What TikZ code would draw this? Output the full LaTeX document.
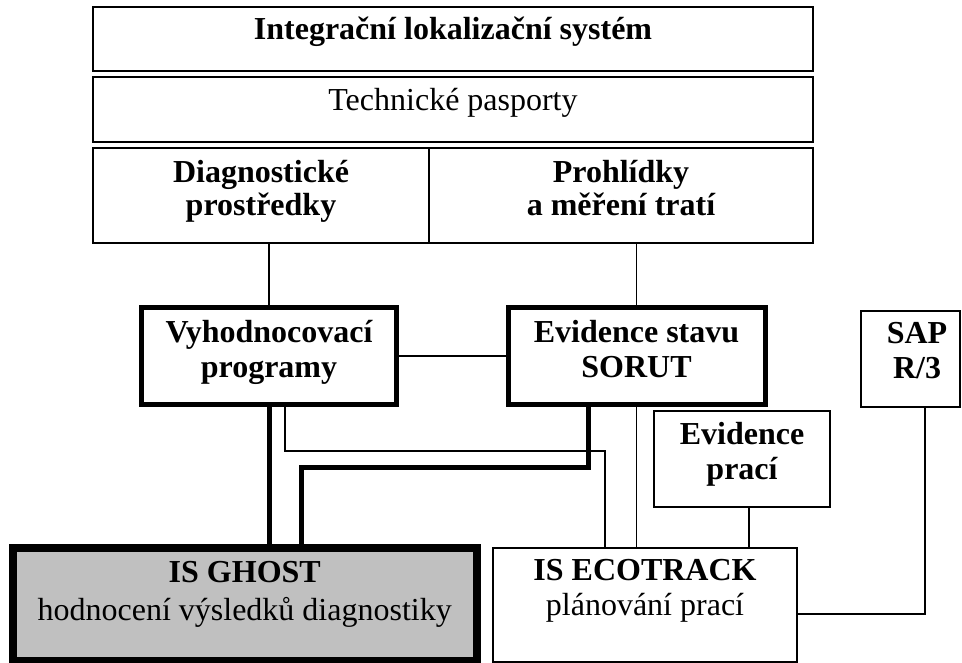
\documentclass[tikz,border=0pt]{standalone}
\usepackage{fontspec}
\setmainfont{Liberation Serif}
\usetikzlibrary{positioning}
\definecolor{ghostgray}{HTML}{C0C0C0}
\newcommand{\txtsize}{\fontsize{32}{35}\selectfont}
\tikzset{
  box/.style={draw, line width=1.8pt, inner sep=0pt},
  heavybox/.style={box, line width=5pt},
  txt/.style={inner sep=0pt, align=center, font=\txtsize},
  txtb/.style={txt, font=\txtsize\bfseries},
  link/.style={line width=1.8pt},
  heavy/.style={line width=5pt}
}

\begin{document}
\begin{tikzpicture}[x=1pt,y=-1pt]
\useasboundingbox (0,0) rectangle (962,663);
% boxes
\node[box, minimum width=720, minimum height=64] (ils) at (453,39) {};
\node[box, minimum width=720, minimum height=65] (tp) at (453,109.5) {};
\node[box, minimum width=336, minimum height=95] (diag) at (261,195.5) {};
\node[box, minimum width=384, minimum height=95] (proh) at (621,195.5) {};
\node[heavybox, minimum width=255.5, minimum height=96.5] (vyh) at (269,355.75) {};
\node[heavybox, minimum width=257, minimum height=96.5] (evs) at (636.5,355.75) {};
\node[box, minimum width=99, minimum height=96] (sap) at (910.5,359) {};
\node[box, minimum width=176, minimum height=96] (evp) at (742,459) {};
\node[box, line width=8pt, fill=ghostgray, minimum width=463.5, minimum height=113] (ghost) at (244.75,604.5) {};
\node[box, minimum width=304, minimum height=114] (eco) at (645,605) {};

% texts
\node[txtb, below=11pt of ils.north] (ils-t) {Integrační lokalizační systém};
\node[txt, below=11.5pt of tp.north] (tp-t) {Technické pasporty};
\node[txtb, below=12.5pt of diag.north] (diag-t) {Diagnostické\\[-2pt]prostředky};
\node[txtb, below=12.5pt of proh.north] (proh-t) {Prohlídky\\[-2pt]a měření tratí};
\node[txtb, below=15pt of vyh.north] (vyh-t) {Vyhodnocovací\\programy};
\node[txtb, below=15pt of evs.north] (evs-t) {Evidence stavu\\SORUT};
\node[txtb, below=12.5pt of sap.north, xshift=6.5pt] (sap-t) {SAP\\R/3};
\node[txtb, below=11.5pt of evp.north] (evp-t) {Evidence\\prací};
\node[txt, below=17pt of ghost.north] (ghost-t) {\textbf{IS GHOST}\\[3pt]hodnocení výsledků diagnostiky};
\node[txt, below=12pt of eco.north] (eco-t) {\textbf{IS ECOTRACK}\\plánování prací};

% bends
\coordinate (k1) at (588,467);
\coordinate (k2) at (301,467);
\coordinate (j1) at (285,451);
\coordinate (j2) at (605,451);
\coordinate (j3) at (925,614);

% connectors
\draw[link] (vyh.north |- diag.south) -- (vyh.north);
\draw[link] (evs.north |- proh.south) -- (evs.north);
\draw[link] (vyh.east) -- (evs.west);
\draw[heavy] (vyh.south) -- (vyh.south |- ghost.north);
\draw[heavy] (evs.south -| k1) -- (k1) -- (k2) -- (k2 |- ghost.north);
\draw[link] (vyh.south -| j1) -- (j1) -- (j2) -- (j2 |- eco.north);
\draw[link] (evs.south) -- (evs.south |- eco.north);
\draw[link] ([xshift=7pt]evp.south) -- ([xshift=7pt]evp.south |- eco.north);
\draw[link] (sap.south -| j3) -- (j3) -- (j3 -| eco.east);
\end{tikzpicture}
\end{document}
